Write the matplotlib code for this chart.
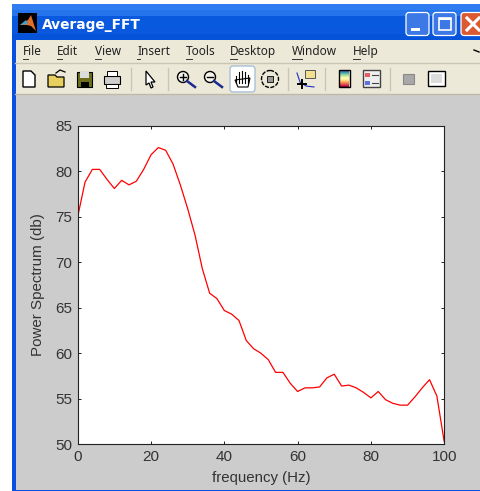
import matplotlib
matplotlib.use('Agg')
import matplotlib.pyplot as plt
from matplotlib.patches import Rectangle, FancyBboxPatch, Circle, Polygon
import numpy as np

# values, one every 2 Hz
freq = np.arange(0, 101, 2)
power = [75.0, 78.8, 80.2, 80.2, 79.1, 78.1, 79.0, 78.5, 78.9, 80.2,
         81.8, 82.6, 82.3, 80.8, 78.5, 75.9, 73.0, 69.3, 66.6, 66.0,
         64.7, 64.3, 63.6, 61.4, 60.5, 60.0, 59.3, 57.9, 57.9, 56.7,
         55.8, 56.2, 56.2, 56.3, 57.3, 57.7, 56.4, 56.5, 56.2, 55.7,
         55.1, 55.8, 54.9, 54.5, 54.3, 54.3, 55.2, 56.2, 57.1, 55.3, 50.3]
x_ticks = [0, 20, 40, 60, 80, 100]
y_ticks = [50, 55, 60, 65, 70, 75, 80, 85]
menu_names = ['File', 'Edit', 'View', 'Insert', 'Tools', 'Desktop', 'Window', 'Help']
menu_x = [23, 57, 95, 137, 186, 230, 292, 353]
menu_under = [5, 5, 6, 3, 6, 7, 10, 7]

W, H = 480, 491
GREY = '#cccccc'
BEIGE = '#ece9d8'
BLUE = '#0a4fe0'

fig = plt.figure(figsize=(W / 100, H / 100), dpi=100, facecolor='white')

# window chrome, drawn in pixel coordinates
bg = fig.add_axes([0, 0, 1, 1])
bg.set_xlim(0, W)
bg.set_ylim(H, 0)
bg.axis('off')


def rect(x, y, w, h, fc, ec='none', lw=0.8, zorder=1):
    bg.add_patch(Rectangle((x, y), w, h, fc=fc, ec=ec, lw=lw, zorder=zorder))


# title bar + frame
rect(11.5, 6, 468.5, 485, BLUE)
grad = np.array([[0.0], [0.12], [0.5], [0.55], [0.6], [1.0]])
bg.imshow(grad, extent=(11.5, 480, 40, 4), cmap=matplotlib.colors.LinearSegmentedColormap.from_list(
    'tb', ['#2f7df0', '#0a5ae0', '#0553d8']), aspect='auto', zorder=1.2)
bg.set_xlim(0, W)
bg.set_ylim(H, 0)
rect(15.5, 40, 464.5, 55, BEIGE, zorder=2)
rect(15.5, 95, 464.5, 395, GREY, zorder=2)
bg.plot([15, 480], [63, 63], color='#c9c6b6', lw=1, zorder=3)
bg.plot([15, 480], [93.5, 93.5], color='#bdbaa8', lw=1, zorder=3)

# matlab logo
rect(18, 13, 19, 20, 'black', zorder=3)
bg.add_patch(Polygon([(20, 25), (28, 20), (31, 15), (36, 31), (31, 26), (27, 25)], fc='#e0702a', zorder=4))
bg.add_patch(Polygon([(20, 25), (26, 20), (28, 24)], fc='#3fa0c8', zorder=5))
bg.text(42, 24.5, 'Average_FFT', color='white', fontsize=9.9, fontweight='bold',
        family='DejaVu Sans', va='center', zorder=4)

# window buttons
for bx, col in zip([406, 433, 461], ['#3c78e6', '#3c78e6', '#dc5a32']):
    bg.add_patch(FancyBboxPatch((bx, 12.5), 23, 23, boxstyle='round,pad=0,rounding_size=3',
                                fc=col, ec='white', lw=0.9, zorder=3))
rect(411, 28, 9, 2.5, 'white', zorder=4)
rect(439, 18, 12, 12, 'none', ec='white', lw=1.2, zorder=4)
rect(439, 18, 12, 2, 'white', zorder=4)
bg.plot([467, 479], [18, 30], color='white', lw=2.2, zorder=4)
bg.plot([467, 479], [30, 18], color='white', lw=2.2, zorder=4)

# menu
for name, mx, ul in zip(menu_names, menu_x, menu_under):
    bg.text(mx, 51.5, name, fontsize=8.5, family='Noto Sans', color='#222222', va='center', zorder=4)
    bg.plot([mx, mx + ul], [59, 59], color='#333333', lw=0.7, zorder=4)
bg.plot([474, 479], [50, 52], color='black', lw=1, zorder=4)

# toolbar icons
for sx in [131, 168, 288, 325, 390]:
    bg.plot([sx, sx], [68, 90], color='#c9c6b6', lw=1, zorder=3)
bg.add_patch(Polygon([(23, 71), (31, 71), (35, 75), (35, 87), (23, 87)], fc='white', ec='black', lw=1, zorder=4))
bg.add_patch(Polygon([(48, 87), (48, 75), (55, 75), (57, 77), (64, 77), (64, 87)], fc='#e8d060', ec='black', lw=0.9, zorder=4))
bg.plot([56, 60, 65], [73, 70, 72], color='black', lw=0.9, zorder=4)
rect(77, 72, 15, 15, '#6e6e1e', ec='black', zorder=4)
rect(80, 72, 9, 6, '#dddddd', zorder=5)
rect(81, 82, 8, 5, 'black', zorder=5)
rect(104, 76, 16, 8, '#cfcfcf', ec='black', zorder=4)
rect(107, 71, 10, 5, 'white', ec='black', lw=0.7, zorder=4)
rect(106, 84, 12, 4, 'white', ec='black', lw=0.7, zorder=4)
bg.add_patch(Polygon([(146, 71), (155, 82), (151, 82), (153, 87), (151, 88), (149, 83), (146, 85)],
                     fc='white', ec='black', lw=0.9, zorder=4))
for cx, plus in [(183, True), (210, False)]:
    bg.add_patch(Circle((cx, 77), 5.5, fc='#f4f4ec', ec='black', lw=1, zorder=4))
    bg.plot([cx + 4, cx + 12], [81, 87], color='#1a2a90', lw=1.8, zorder=4)
    bg.plot([cx - 3, cx + 3], [77, 77], color='black', lw=1, zorder=5)
    if plus:
        bg.plot([cx, cx], [74, 80], color='black', lw=1, zorder=5)
bg.add_patch(FancyBboxPatch((230, 66), 25, 26, boxstyle='round,pad=0,rounding_size=3',
                            fc='white', ec='#a8c0d8', lw=1, zorder=3))
for hx, top in zip([236, 239, 242, 245, 248], [76, 72, 71, 72, 75]):
    bg.plot([hx, hx], [top, 83], color='black', lw=0.8, zorder=5)
bg.add_patch(Polygon([(235, 80), (238, 87), (248, 87), (250, 78)], fc='white', ec='black', lw=0.8, zorder=4))
bg.add_patch(Circle((270, 79), 8.5, fc='none', ec='black', lw=1, ls=(0, (3, 1)), zorder=4))
rect(267, 76, 6, 6, '#999999', ec='black', lw=0.6, zorder=4)
rect(305, 70, 10, 8, '#f0e090', ec='#555555', lw=0.7, zorder=4)
bg.plot([297, 300, 306, 314], [73, 82, 86, 87], color='#2030c0', lw=0.8, zorder=4)
bg.plot([298, 306], [84, 84], color='black', lw=1.4, zorder=5)
bg.plot([302, 302], [80, 88], color='black', lw=1.4, zorder=5)
bg.imshow(np.linspace(0, 1, 20).reshape(-1, 1), extent=(339, 349, 87, 70),
          cmap='Spectral_r', aspect='auto', zorder=4)
bg.set_xlim(0, W)
bg.set_ylim(H, 0)
rect(339, 70, 11, 17, 'none', ec='black', lw=1, zorder=5)
rect(363, 70, 17, 17, '#eeeeee', ec='#444444', lw=1, zorder=4)
rect(365, 73, 5, 4, '#e06060', zorder=5)
rect(365, 81, 5, 4, '#6070e0', zorder=5)
bg.plot([372, 378], [75, 75], color='#444444', lw=0.8, zorder=5)
bg.plot([372, 378], [83, 83], color='#444444', lw=0.8, zorder=5)
rect(403, 74, 11, 10, '#a8a8a8', ec='#888888', lw=0.8, zorder=4)
rect(428, 71, 17, 15, 'white', ec='black', lw=1, zorder=4)
rect(431, 74, 11, 9, '#dddddd', zorder=5)

# the plot itself
ax = fig.add_axes([77.7 / W, 1 - 444.3 / H, (444.2 - 77.7) / W, (444.3 - 125.7) / H])
ax.plot(freq, power, color='red', lw=0.9)
ax.set_xlim(0, 100)
ax.set_ylim(50, 85)
ax.set_xticks(x_ticks)
ax.set_yticks(y_ticks)
ax.tick_params(direction='in', top=True, right=True, length=2.5, width=0.7, color='#222222',
               labelsize=11, labelcolor='#333333', pad=4)
for lab in ax.get_xticklabels() + ax.get_yticklabels():
    lab.set_family('Liberation Sans')
for sp in ax.spines.values():
    sp.set_linewidth(0.8)
    sp.set_color('#222222')
ax.set_xlabel('frequency (Hz)', family='Liberation Sans', fontsize=10.8, color='#333333', labelpad=5)
ax.set_ylabel('Power Spectrum (db)', family='Liberation Sans', fontsize=10.9, color='#333333', labelpad=7)

fig.savefig('out.png', dpi=100)
